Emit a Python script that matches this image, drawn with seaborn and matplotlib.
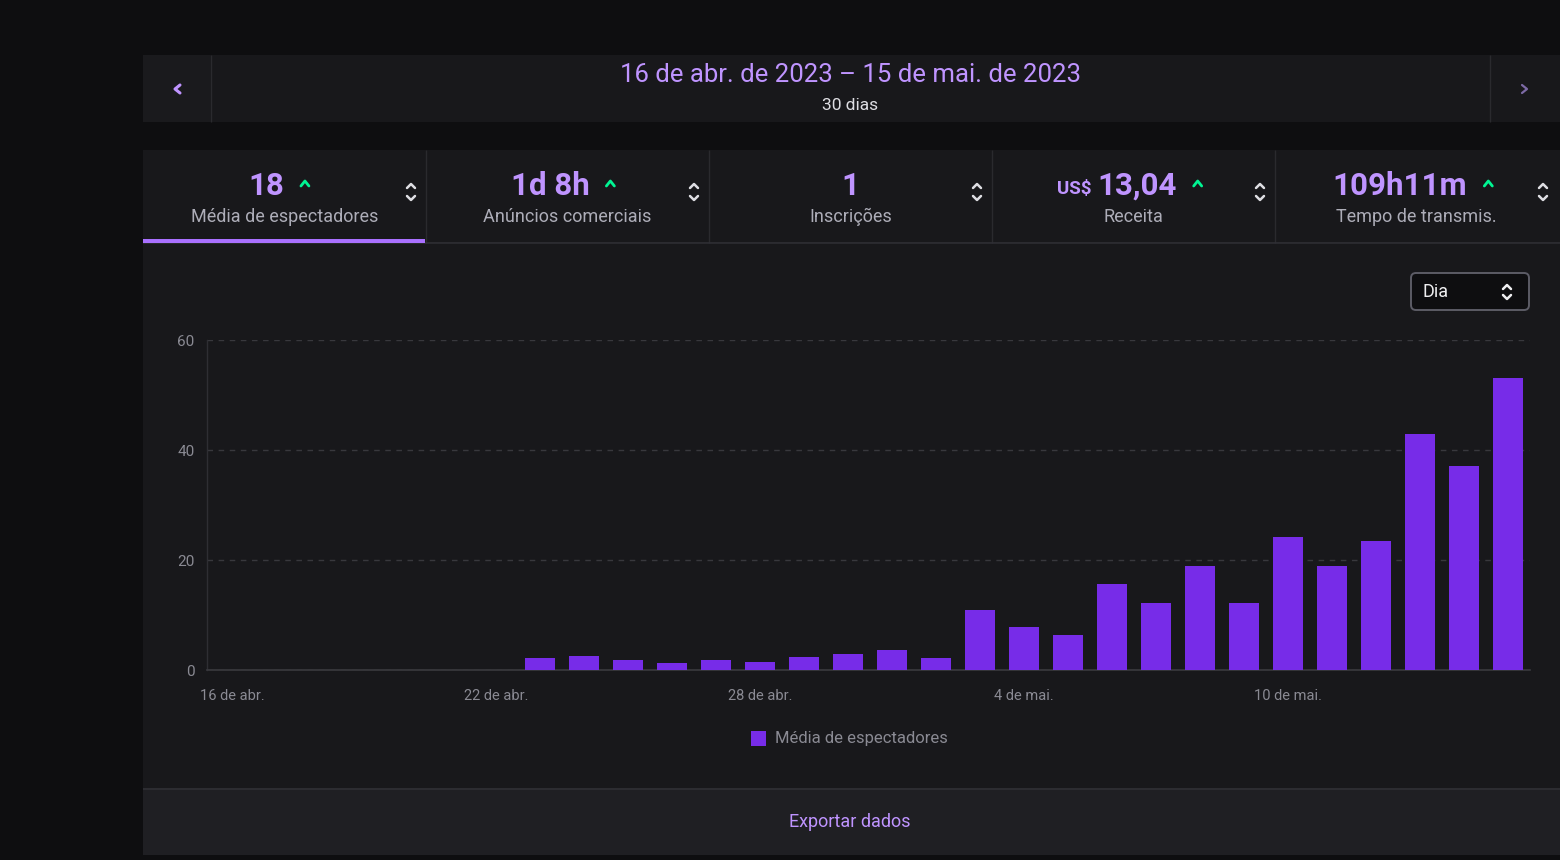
import matplotlib
matplotlib.use("Agg")
import matplotlib.pyplot as plt
import seaborn as sns
import pandas as pd
from matplotlib.patches import Rectangle, FancyBboxPatch

# ---------------- data ----------------
days = ["16 de abr.", "17 de abr.", "18 de abr.", "19 de abr.", "20 de abr.",
        "21 de abr.", "22 de abr.", "23 de abr.", "24 de abr.", "25 de abr.",
        "26 de abr.", "27 de abr.", "28 de abr.", "29 de abr.", "30 de abr.",
        "1 de mai.", "2 de mai.", "3 de mai.", "4 de mai.", "5 de mai.",
        "6 de mai.", "7 de mai.", "8 de mai.", "9 de mai.", "10 de mai.",
        "11 de mai.", "12 de mai.", "13 de mai.", "14 de mai.", "15 de mai."]
viewers = [0, 0, 0, 0, 0, 0, 0,
           2.2, 2.5, 1.9, 1.3, 1.8, 1.45, 2.4, 2.85, 3.6, 2.2,
           11.0, 7.9, 6.3, 15.6, 12.1, 18.85, 12.1, 24.1, 19.0, 23.5,
           42.9, 37.1, 53.1]
tick_labels = ["16 de abr.", "22 de abr.", "28 de abr.", "4 de mai.", "10 de mai."]
y_ticks = [0, 20, 40, 60]

title_range = "16 de abr. de 2023 – 15 de mai. de 2023"
subtitle = "30 dias"
stat_values = ["18", "1d 8h", "1", "13,04", "109h11m"]
stat_labels = ["Média de espectadores", "Anúncios comerciais", "Inscrições",
               "Receita", "Tempo de transmis."]
stat_up = [True, True, False, True, True]
series_name = "Média de espectadores"

# ---------------- style ----------------
BG = "#0e0e10"
PANEL = "#18181b"
FOOT = "#1f1f23"
BORDER = "#2a2a2e"
BAR = "#772ce8"
PURPLE_TXT = "#bf94ff"
GRAY_TXT = "#adadb8"
DIM_TXT = "#8a8a93"
GREEN = "#00f593"

sns.set_theme(style="dark")
plt.rcParams["font.family"] = ["Roboto", "DejaVu Sans"]

W, H = 1560, 860
fig = plt.figure(figsize=(W / 100, H / 100), dpi=100)
fig.patch.set_facecolor(BG)
renderer = fig.canvas.get_renderer()

ui = fig.add_axes([0, 0, 1, 1])
ui.set_xlim(0, W)
ui.set_ylim(H, 0)
ui.axis("off")
ui.set_zorder(0)

def rect(x0, y0, x1, y1, color, z=1):
    ui.add_patch(Rectangle((x0, y0), x1 - x0, y1 - y0, facecolor=color,
                           edgecolor="none", zorder=z))

def vline(x, y0, y1, color=BORDER, lw=1.0):
    ui.plot([x, x], [y0, y1], color=color, lw=lw, zorder=3, solid_capstyle="butt")

def hline(y, x0, x1, color=BORDER, lw=1.0):
    ui.plot([x0, x1], [y, y], color=color, lw=lw, zorder=3, solid_capstyle="butt")

def chev(xs, ys, color, lw=1.8):
    ui.plot(xs, ys, color=color, lw=lw, zorder=5, solid_capstyle="round",
            solid_joinstyle="round")

def text_width(t):
    bb = t.get_window_extent(renderer=renderer)
    return bb.width

# header
rect(143, 55, W, 122, PANEL)
rect(143, 55, 210, 122, "#1a1a1d", z=2)
vline(210.5, 55, 122)
vline(1489.5, 55, 122)
chev([180, 175, 180], [85, 89, 93], PURPLE_TXT, lw=2.2)
chev([1522, 1527, 1522], [85, 89, 93], "#7d6aa6", lw=1.6)
ui.text(850, 75, title_range, color=PURPLE_TXT, fontsize=18.5, ha="center",
        va="center", zorder=5)
ui.text(850, 105, subtitle, color="#dedee3", fontsize=12.5, ha="center",
        va="center", zorder=5)

# stats row
rect(143, 150, W, 243, PANEL)
cell_edges = [143, 425, 708, 991, 1274, 1557]
for x in cell_edges[1:-1]:
    vline(x + 0.5, 150, 243)
hline(243, 143, W, color="#2f2f35", lw=1.2)
rect(143, 239, 425, 243, "#a970ff", z=4)

val_centers = [266, 550, 850, 1137, 1400]
for i in range(5):
    cx = (cell_edges[i] + cell_edges[i + 1]) / 2
    vc = val_centers[i]
    t = ui.text(vc, 186, stat_values[i], color=PURPLE_TXT, fontsize=22.5,
                fontweight="bold", ha="center", va="center", zorder=5)
    wv = text_width(t)
    if i == 3:
        ui.text(vc - wv / 2 - 6, 189, "US$", color=PURPLE_TXT,
                fontsize=13.5, fontweight="bold", ha="right", va="center", zorder=5)
    if stat_up[i]:
        gx = vc + wv / 2 + 21
        chev([gx - 4, gx, gx + 4], [186, 181, 186], GREEN, lw=2.0)
    ui.text(cx + 1, 217, stat_labels[i], color=GRAY_TXT, fontsize=13,
            ha="center", va="center", zorder=5)
    sx = cell_edges[i + 1] - 14
    chev([sx - 4, sx, sx + 4], [188, 184, 188], "#dedee3")
    chev([sx - 4, sx, sx + 4], [196, 200, 196], "#dedee3")

# chart panel + footer
rect(143, 243.6, W, 788, PANEL)
rect(143, 788, W, 855, FOOT)
hline(788.5, 143, W, color="#2c2c31", lw=1.5)
ui.text(850, 822, "Exportar dados", color=PURPLE_TXT, fontsize=13,
        ha="center", va="center", zorder=5)

# dropdown
ui.add_patch(FancyBboxPatch((1411, 273), 118, 37,
                            boxstyle="round,pad=0,rounding_size=5",
                            facecolor="#0e0e10", edgecolor="#5c5c66", lw=1.4,
                            zorder=4))
ui.text(1423, 292, "Dia", color="#efeff1", fontsize=13, ha="left",
        va="center", zorder=5)
chev([1503, 1507, 1511], [289, 285, 289], "#efeff1")
chev([1503, 1507, 1511], [295, 299, 295], "#efeff1")

# legend
ui.add_patch(Rectangle((751, 731), 15, 15, facecolor=BAR, edgecolor="none",
                       zorder=5))
ui.text(775, 738.5, series_name, color=DIM_TXT, fontsize=12, ha="left",
        va="center", zorder=5)

# ---------------- bar chart ----------------
ax_l, ax_r, ax_t, ax_b = 207, 1530, 340, 670
ax = fig.add_axes([ax_l / W, 1 - ax_b / H, (ax_r - ax_l) / W, (ax_b - ax_t) / H])
ax.set_zorder(2)
ax.set_facecolor("none")

df = pd.DataFrame({"dia": days, "media": viewers})
sns.barplot(data=df, x="dia", y="media", order=days, color=BAR, saturation=1,
            width=0.7, ax=ax, edgecolor="none", zorder=3)

ax.set_xlim(-0.57, 29.5)
ax.set_ylim(0, 60)
ax.set_yticks(y_ticks)
ax.set_yticklabels([str(v) for v in y_ticks])
ax.set_xticks([days.index(t) for t in tick_labels])
ax.set_xticklabels(tick_labels)
ax.set_xlabel("")
ax.set_ylabel("")

ax.yaxis.grid(True, color="#38383d", linestyle=(0, (4, 4)), lw=1)
ax.xaxis.grid(False)
ax.set_axisbelow(True)
for s in ["top", "right"]:
    ax.spines[s].set_visible(False)
ax.spines["left"].set_color("#2e2e33")
ax.spines["left"].set_linewidth(1)
ax.spines["bottom"].set_color("#3a3a3f")
ax.spines["bottom"].set_linewidth(1.2)
ax.tick_params(axis="y", length=6, width=1, color="#38383d", labelcolor=DIM_TXT,
               labelsize=11, pad=3)
ax.tick_params(axis="x", length=0, labelsize=10.5, labelcolor=DIM_TXT, pad=14)

fig.savefig("out.png", dpi=100, facecolor=BG)
